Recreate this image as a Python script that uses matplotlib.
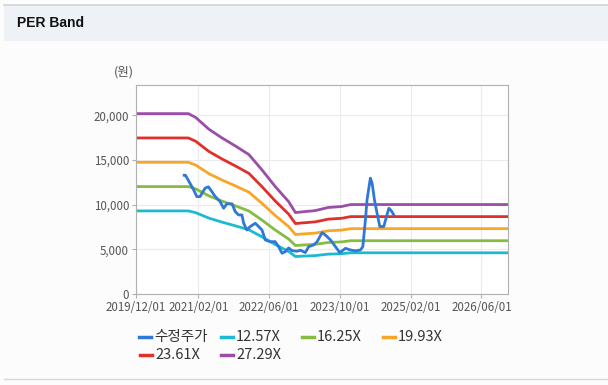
import matplotlib
matplotlib.use("Agg")
import matplotlib.pyplot as plt
from matplotlib.lines import Line2D
import numpy as np
import pandas as pd

plt.rcParams['font.family'] = ['Noto Sans CJK KR', 'DejaVu Sans']

# EPS-like base series (band value = base * multiple)
band_dates = ["2019-12-01", "2020-11-25", "2021-01-15", "2021-04-15", "2021-07-15",
              "2021-10-15", "2022-01-15", "2022-04-15", "2022-07-15", "2022-10-15",
              "2022-12-01", "2023-01-15", "2023-04-15", "2023-07-15", "2023-10-15",
              "2023-12-15", "2026-12-01"]
band_base = [740, 740, 724, 676, 640, 607, 572, 509, 441, 379,
             334, 337, 342, 355, 359, 367, 367]
multiples = [12.57, 16.25, 19.93, 23.61, 27.29]
band_labels = ["12.57X", "16.25X", "19.93X", "23.61X", "27.29X"]
band_colors = ["#1db9d3", "#86bc42", "#f9a527", "#e0302c", "#9b4ea8"]

# adjusted share price
price_dates = ["2020-10-27", "2020-11-05", "2020-12-30", "2021-01-22", "2021-02-13",
               "2021-03-20", "2021-04-12", "2021-05-04", "2021-05-29", "2021-07-01",
               "2021-07-25", "2021-08-17", "2021-09-21", "2021-10-13", "2021-11-05",
               "2021-11-28", "2021-12-10", "2022-01-01", "2022-01-24", "2022-02-28",
               "2022-03-23", "2022-04-15", "2022-05-08", "2022-06-11", "2022-07-15",
               "2022-08-07", "2022-08-31", "2022-09-23", "2022-10-15", "2022-11-07",
               "2022-12-12", "2023-01-04", "2023-02-07", "2023-03-02", "2023-04-05",
               "2023-04-29", "2023-06-02", "2023-06-25", "2023-07-30", "2023-09-02",
               "2023-10-02", "2023-11-10", "2023-12-14", "2024-01-17", "2024-02-21",
               "2024-03-08", "2024-03-26", "2024-04-06", "2024-04-29", "2024-05-11",
               "2024-05-27", "2024-06-14", "2024-07-03", "2024-07-30", "2024-08-18",
               "2024-09-03", "2024-09-19", "2024-10-07"]
price = [13300, 13300, 11700, 10900, 10900, 11850, 12000, 11500, 10900, 10350,
         9600, 10100, 10100, 9230, 8850, 8850, 7920, 7170, 7550, 7920,
         7550, 7170, 6050, 5860, 5860, 5300, 4560, 4750, 5160, 4860,
         4790, 4900, 4640, 5300, 5490, 5860, 6870, 6600, 6050, 5300,
         4640, 5110, 4930, 4830, 4930, 5300, 8300, 10540, 12970, 12410,
         10540, 9040, 7550, 7550, 8670, 9600, 9340, 8850]

xticks = ["2019-12-01", "2021-02-01", "2022-06-01", "2023-10-01", "2025-02-01", "2026-06-01"]

fig = plt.figure(figsize=(6.08, 3.85), dpi=100)
fig.patch.set_facecolor("#fcfcfc")

# header strip
fig.patches.append(plt.Rectangle((4/608, 1 - 41/385), 1, 36/385, transform=fig.transFigure,
                                 facecolor="#eef2f7", edgecolor="none", zorder=0))
fig.lines.append(Line2D([4/608, 1], [1 - 5/385, 1 - 5/385], transform=fig.transFigure,
                        color="#d0d4d9", lw=1.2))
fig.lines.append(Line2D([4/608, 1], [1 - 379/385, 1 - 379/385], transform=fig.transFigure,
                        color="#d8d8d8", lw=1))
fig.text(17/608, 1 - 23/385, "PER Band", fontsize=10, fontweight="bold",
         va="center", ha="left", color="#111111", family=["Liberation Sans", "DejaVu Sans"])

ax = fig.add_axes([136/608, 1 - 294/385, 372/608, 209/385])
ax.set_facecolor("white")

bd = pd.to_datetime(band_dates)
base = np.array(band_base, dtype=float)
for m, c in zip(multiples, band_colors):
    ax.plot(bd, base * m, color=c, lw=2)
ax.plot(pd.to_datetime(price_dates), price, color="#2f78d6", lw=2)

ax.set_xlim(pd.Timestamp("2019-12-01"), pd.Timestamp("2026-12-01"))
ax.set_ylim(0, 23400)
ax.set_yticks([0, 5000, 10000, 15000, 20000])
ax.set_yticklabels(["0", "5,000", "10,000", "15,000", "20,000"])
ax.set_xticks(pd.to_datetime(xticks))
ax.set_xticklabels([d.replace("-", "/") for d in xticks])
ax.grid(True, color="#ebebeb", lw=0.8)
ax.set_axisbelow(True)
for s in ax.spines.values():
    s.set_color("#b0b0b0")
ax.tick_params(colors="#555555", labelsize=8.3, length=3, width=0.8, pad=2)
ax.tick_params(axis="both", color="#b0b0b0")

fig.text(124/608, 1 - 72/385, "(원)", fontsize=9, color="#555555", ha="center", va="center")

# legend laid out as flowing rows
leg_names = ["수정주가"] + band_labels
leg_colors = ["#2f78d6"] + band_colors
leg_pos = [(139, 337), (221, 337), (302, 337), (383, 337), (140, 355), (221, 355)]
for name, c, (lx, ly) in zip(leg_names, leg_colors, leg_pos):
    yy = 1 - ly / 385
    fig.lines.append(Line2D([lx/608, (lx + 12)/608], [yy, yy], transform=fig.transFigure,
                            color=c, lw=2.5))
    fig.text((lx + 15)/608, yy, name, fontsize=10.5, color="#333333", va="center", ha="left")

fig.savefig("out.png", dpi=100, facecolor=fig.get_facecolor())
